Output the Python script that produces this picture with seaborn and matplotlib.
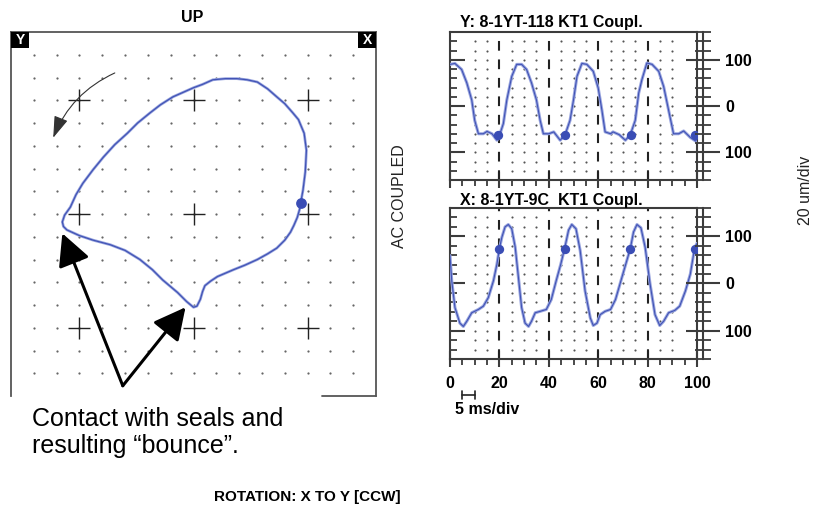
import numpy as np
import pandas as pd
import matplotlib
matplotlib.use("Agg")
import matplotlib.pyplot as plt
import matplotlib.transforms as mtransforms
from matplotlib.patches import Rectangle
from matplotlib.ticker import MultipleLocator, FixedLocator
import seaborn as sns

# ---------------- data ----------------
# Orbit (um), 20 um/div, traced CCW starting at the keyphasor dot
orbit_x = [94, 96, 98, 99, 97, 92, 87, 80, 73, 65, 56, 47, 38, 28, 17, 8, 0, -9, -18,
           -29, -38, -49, -58, -69, -79, -88, -97, -103, -108, -113, -115, -114, -111,
           -100, -88, -73, -60, -47, -36, -27, -14, -6, 0, 3, 6, 8, 10, 15, 21, 28, 35,
           45, 56, 65, 73, 80, 85, 88, 91, 93, 94]
orbit_y = [10, 21, 37, 56, 71, 83, 89, 97, 103, 110, 116, 118, 119, 119, 118, 114, 111,
           107, 103, 96, 89, 80, 71, 61, 50, 39, 27, 17, 6, -1, -7, -11, -14, -19, -23,
           -27, -32, -40, -49, -58, -69, -77, -82, -81, -75, -68, -63, -59, -55, -52,
           -49, -45, -40, -35, -30, -23, -16, -10, -3, 4, 10]
orbit_kp_x = [94]
orbit_kp_y = [10]

# Y probe timebase (ms, um)
y_time = [0, 2, 4.7, 6.8, 8.8, 10, 11.5, 13.5, 15, 17, 19, 20, 21.6, 23, 25, 27, 29, 31,
          33, 35, 36.5, 37.8, 40, 42, 44.6, 46.6, 48.6, 50, 51.4, 53.4, 55.4, 58, 60,
          61.5, 62.8, 65, 66, 68.5, 71, 73, 75, 76.4, 77.7, 79.7, 81.8, 84.5, 86.5,
          88.5, 90.5, 92.6, 94.6, 97.3, 99.5, 100]
y_amp = [90, 92, 79, 50, 13, -31, -60, -60, -55, -60, -74, -64, -38, 13, 64, 90, 90, 79,
         50, 13, -31, -60, -60, -56, -74, -62, -31, 13, 64, 92, 90, 75, 39, -9, -56, -60,
         -56, -62, -74, -62, -31, 28, 57, 93, 90, 75, 42, -9, -60, -60, -54, -68, -76,
         -70]
y_kp_time = [19.6, 46.6, 73.2, 99.2]
y_kp_amp = [-63, -62, -62, -62]

# X probe timebase (ms, um)
x_time = [0, 0.7, 2, 4, 5.4, 6.8, 8.8, 11.5, 13.5, 15.5, 17.6, 19, 20, 21, 22.3, 23.6,
          25, 26.4, 27.7, 29, 30.4, 31.8, 33, 34.5, 36.5, 39, 41, 43, 44.8, 46.4, 48,
          49.3, 51, 52.7, 54.7, 56.8, 58, 59.5, 60.8, 62.8, 65, 67, 69.6, 73, 74.3, 75.7,
          77.3, 79, 81, 83, 84.9, 86.5, 88.5, 91, 93, 95.3, 97.3, 99, 100]
x_amp = [59, 6, -51, -84, -91, -80, -62, -55, -48, -30, 6, 41, 74, 98, 120, 125, 116, 77,
         13, -51, -84, -91, -80, -62, -59, -55, -34, 6, 40, 74, 113, 125, 116, 70, -16,
         -73, -89, -84, -66, -59, -55, -34, 13, 74, 109, 125, 118, 77, -1, -66, -89, -80,
         -62, -57, -48, -16, 20, 74, 85]
x_kp_time = [20.0, 46.4, 73.0, 99.0]
x_kp_amp = [74, 74, 74, 74]

time_ticks = [0, 20, 40, 60, 80, 100]
amp_ticks = [-100, 0, 100]
amp_tick_labels = ["100", "0", "100"]

# ---------------- style ----------------
sns.set_style("white")
plt.rcParams['font.family'] = ['Liberation Sans', 'DejaVu Sans']
plt.rcParams['lines.scale_dashes'] = False
plt.rcParams['text.color'] = 'black'
plt.rcParams['xtick.labelcolor'] = 'black'
plt.rcParams['ytick.labelcolor'] = 'black'

W, H = 815, 508
fig = plt.figure(figsize=(W / 100, H / 100), dpi=100)


def fx(px):
    return px / W


def fy(py):
    return 1 - py / H


TRACE_LIGHT = '#9aa6df'
TRACE_DARK = '#4153b5'
KP = '#3a4db5'
SPINE = '#3c3c3c'

# ---------------- orbit ----------------
ax_o = fig.add_axes([fx(11), fy(396), (376 - 11) / W, (396 - 32) / H])
ax_o.set_xlim(-160, 160)
ax_o.set_ylim(-160, 160)
gx, gy = np.meshgrid(np.arange(-140, 141, 20), np.arange(-140, 141, 20))
ax_o.scatter(gx.ravel(), gy.ravel(), s=2.6, color='#666666', linewidths=0, zorder=1)
cx, cy = np.meshgrid([-100, 0, 100], [-100, 0, 100])
ax_o.scatter(cx.ravel(), cy.ravel(), s=250, marker='+', color='#222222',
             linewidths=1.0, zorder=2)
orbit_df = pd.DataFrame({'x': orbit_x, 'y': orbit_y})
sns.lineplot(data=orbit_df, x='x', y='y', sort=False, estimator=None, ax=ax_o,
             color=TRACE_LIGHT, lw=2.0, zorder=3)
sns.lineplot(data=orbit_df, x='x', y='y', sort=False, estimator=None, ax=ax_o,
             color=TRACE_DARK, lw=0.9, zorder=4)
sns.scatterplot(x=orbit_kp_x, y=orbit_kp_y, ax=ax_o, s=60, color=KP, linewidth=0,
                zorder=5)
ax_o.set_xlabel('')
ax_o.set_ylabel('')
ax_o.set_xticks([])
ax_o.set_yticks([])
for s in ['left', 'right', 'top']:
    ax_o.spines[s].set_color('#555555')
    ax_o.spines[s].set_linewidth(1.3)
ax_o.spines['bottom'].set_visible(False)
ax_o.plot([0.852, 1.0], [0, 0], transform=ax_o.transAxes, color='#555555', lw=1.3,
          clip_on=False)
# corner labels
for x0, lab in [(0.0, 'Y'), (0.951, 'X')]:
    ax_o.add_patch(Rectangle((x0, 0.956), 0.049, 0.044, transform=ax_o.transAxes,
                             facecolor='black', edgecolor='none', clip_on=False,
                             zorder=6))
    ax_o.text(x0 + 0.0245, 0.978, lab, transform=ax_o.transAxes, color='white',
              fontsize=10, fontweight='bold', ha='center', va='center', zorder=7)

# annotation arrows
ax_o.annotate('', xy=(-115, -17), xytext=(-62, -151), annotation_clip=False,
              arrowprops=dict(arrowstyle='-|>,head_length=0.49,head_width=0.25',
                              mutation_scale=40, color='black', lw=2.2,
                              shrinkA=0, shrinkB=0))
ax_o.annotate('', xy=(-7, -82), xytext=(-62, -151), annotation_clip=False,
              arrowprops=dict(arrowstyle='-|>,head_length=0.49,head_width=0.25',
                              mutation_scale=40, color='black', lw=2.2,
                              shrinkA=0, shrinkB=0))
ax_o.annotate('', xy=(-123, 67), xytext=(-69, 124), annotation_clip=False,
              arrowprops=dict(arrowstyle='-|>,head_length=0.67,head_width=0.22',
                              mutation_scale=20, color='#333333', lw=0.8,
                              shrinkA=0, shrinkB=0,
                              connectionstyle='arc3,rad=0.2'))


# ---------------- timebase ----------------
def timebase(rect, t, a, kt, ka, show_xlabels):
    ax = fig.add_axes(rect)
    ax.set_xlim(0, 100)
    ax.set_ylim(-160, 160)
    dot_t = [v for v in range(10, 95, 5) if v % 20 != 0]
    dgx, dgy = np.meshgrid(dot_t, np.arange(-140, 141, 20))
    ax.scatter(dgx.ravel(), dgy.ravel(), s=2.4, color='#555555', linewidths=0,
               zorder=1)
    for v in [20, 40, 60, 80]:
        ax.axvline(v, color='#222222', lw=1.5, ls=(0, (7, 6.3)), zorder=2)
    df = pd.DataFrame({'t': t, 'a': a})
    sns.lineplot(data=df, x='t', y='a', ax=ax, color=TRACE_LIGHT, lw=2.2,
                 estimator=None, sort=False, zorder=3)
    sns.lineplot(data=df, x='t', y='a', ax=ax, color=TRACE_DARK, lw=0.8,
                 estimator=None, sort=False, zorder=4)
    sns.scatterplot(x=kt, y=ka, ax=ax, s=45, color=KP, linewidth=0, zorder=5)
    ax.set_xlabel('')
    ax.set_ylabel('')
    for s in ax.spines.values():
        s.set_color(SPINE)
        s.set_linewidth(1.5)
    ax.xaxis.set_major_locator(FixedLocator(time_ticks))
    ax.xaxis.set_minor_locator(MultipleLocator(5))
    ax.yaxis.set_major_locator(FixedLocator(amp_ticks))
    ax.yaxis.set_minor_locator(MultipleLocator(20))
    ax.set_yticklabels([])
    ax.tick_params(axis='x', which='major', bottom=True, direction='inout', length=12,
                   width=1.5, color=SPINE, labelsize=11.5, pad=6,
                   labelbottom=show_xlabels, labelcolor='black')
    ax.tick_params(axis='x', which='minor', bottom=True, direction='out', length=4,
                   width=1.3, color=SPINE)
    ax.tick_params(axis='y', which='major', left=True, right=False, direction='in',
                   length=11, width=1.5, color=SPINE)
    ax.tick_params(axis='y', which='minor', left=True, right=False, direction='in',
                   length=5, width=1.3, color=SPINE)
    for lab in ax.get_xticklabels():
        lab.set_fontweight('bold')
    tw = ax.twinx()
    tw.set_ylim(-160, 160)
    for s in ['left', 'top', 'bottom']:
        tw.spines[s].set_visible(False)
    tw.spines['right'].set_position(('outward', 4))
    tw.spines['right'].set_color(SPINE)
    tw.spines['right'].set_linewidth(1.5)
    tw.yaxis.set_major_locator(FixedLocator(amp_ticks))
    tw.set_yticklabels(amp_tick_labels)
    tw.yaxis.set_minor_locator(MultipleLocator(20))
    tw.tick_params(axis='y', which='major', direction='inout', length=25, width=1.5,
                   color=SPINE, labelsize=11.5, pad=4, labelcolor='black')
    tw.tick_params(axis='y', which='minor', direction='inout', length=11, width=1.3,
                   color=SPINE)
    for lab in tw.get_yticklabels():
        lab.set_fontweight('bold')
    tw.grid(False)
    return ax


ax_y = timebase([fx(450), fy(180), 247 / W, 148 / H], y_time, y_amp, y_kp_time,
                y_kp_amp, False)
ax_x = timebase([fx(450), fy(359), 247 / W, 151 / H], x_time, x_amp, x_kp_time,
                x_kp_amp, True)

# 5 ms scale bar
trans = mtransforms.blended_transform_factory(ax_x.transData, ax_x.transAxes)
ax_x.plot([5, 10], [-0.238, -0.238], transform=trans, color='#222222', lw=1.2,
          clip_on=False)
for v in [5, 10]:
    ax_x.plot([v, v], [-0.212, -0.264], transform=trans, color='#222222', lw=1.2,
              clip_on=False)

# ---------------- texts ----------------
fig.text(fx(192), fy(18), 'UP', ha='center', va='center', fontsize=11.5,
         fontweight='bold')
fig.text(fx(460), fy(22), 'Y: 8-1YT-118 KT1 Coupl.', ha='left', va='center',
         fontsize=11.5, fontweight='bold')
fig.text(fx(460), fy(200), 'X: 8-1YT-9C  KT1 Coupl.', ha='left', va='center',
         fontsize=11.5, fontweight='bold')
fig.text(fx(399), fy(196), 'AC COUPLED', rotation=90, ha='center', va='center',
         fontsize=11.5, color='#222222')
fig.text(fx(805), fy(190), '20 um/div', rotation=90, ha='center', va='center',
         fontsize=11.5, color='#222222')
fig.text(fx(455), fy(410), '5 ms/div', ha='left', va='center', fontsize=11.5,
         fontweight='bold')
fig.text(fx(32), fy(407), 'Contact with seals and\nresulting \u201cbounce\u201d.',
         ha='left', va='top', fontsize=18, linespacing=1.15)
fig.text(fx(307), fy(497), 'ROTATION: X TO Y [CCW]', ha='center', va='center',
         fontsize=11, fontweight='bold')

fig.savefig('out.png', dpi=100)
